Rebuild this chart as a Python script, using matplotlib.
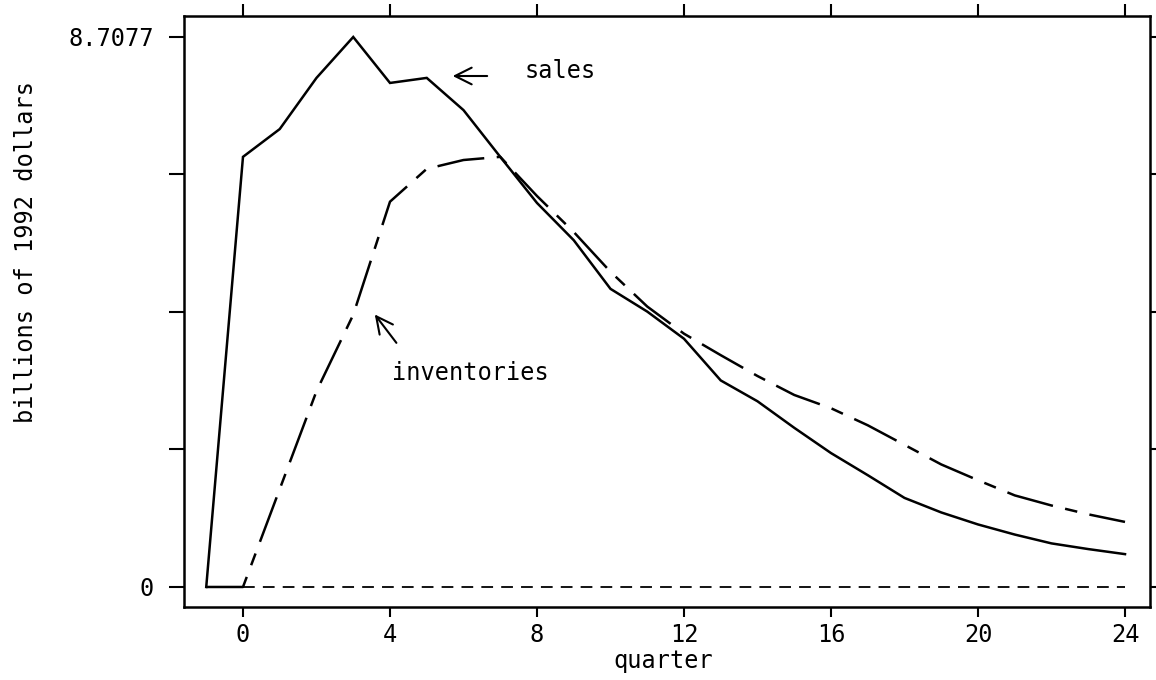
import matplotlib
matplotlib.use("Agg")
import matplotlib.pyplot as plt

# ---- data ----
quarter = list(range(-1, 25))
sales = [0.0, 6.81, 7.25, 8.06, 8.7077, 7.98, 8.06, 7.55, 6.81, 6.08, 5.49, 4.72,
         4.36, 3.93, 3.27, 2.94, 2.52, 2.12, 1.77, 1.41, 1.18, 0.99, 0.83, 0.69,
         0.60, 0.52]
inventories = [0.0, 0.0, 1.55, 3.10, 4.31, 6.10, 6.62, 6.76, 6.81, 6.19, 5.62, 4.99,
               4.44, 4.01, 3.67, 3.34, 3.04, 2.83, 2.56, 2.25, 1.94, 1.69, 1.45,
               1.29, 1.15, 1.03]
zero_x = [0, 24]
zero_y = [0, 0]
x_ticks = [0, 4, 8, 12, 16, 20, 24]
y_max = 8.7077
y_ticks = [0, y_max / 4, y_max / 2, 3 * y_max / 4, y_max]
y_ticklabels = ["0", "", "", "", "8.7077"]

FONT = "DejaVu Sans Mono"
FS = 17

W, H = 1156, 680
fig = plt.figure(figsize=(W / 100, H / 100), dpi=100)
ax = fig.add_axes([184 / W, 1 - 607 / H, (1150 - 184) / W, (607 - 16) / H])

ax.plot(quarter, sales, color="black", lw=1.8, solid_joinstyle="miter")
ax.plot(quarter, inventories, color="black", lw=1.8,
        linestyle=(0, (19, 5, 5, 5)))
ax.plot(zero_x, zero_y, color="black", lw=1.3, linestyle=(0, (6.5, 4.5)))

ax.set_xlim(-1.605, 24.68)
ax.set_ylim(-0.317, 9.04)

ax.set_xticks(x_ticks)
ax.set_xticklabels([str(t) for t in x_ticks], fontfamily=FONT, fontsize=FS)
ax.set_yticks(y_ticks)
ax.set_yticklabels(y_ticklabels, fontfamily=FONT, fontsize=FS)

ax.tick_params(axis="x", which="both", direction="out", length=7.5, width=1.5,
               top=True, pad=4)
ax.tick_params(axis="y", which="both", direction="out", length=10.8, width=1.5,
               right=True, pad=11)
# shorter right ticks / taller top ticks
for t in ax.yaxis.get_major_ticks():
    t.tick2line.set_markersize(4)
for t in ax.xaxis.get_major_ticks():
    t.tick2line.set_markersize(9)

for s in ax.spines.values():
    s.set_linewidth(1.8)

# annotations
ax.text(7.67, 8.17, "sales", fontfamily=FONT, fontsize=FS, va="center", ha="left")
ax.annotate("", xy=(5.63, 8.09), xytext=(6.72, 8.09),
            arrowprops=dict(arrowstyle="->", color="black", lw=1.5,
                            mutation_scale=30))
ax.text(4.05, 3.39, "inventories", fontfamily=FONT, fontsize=FS,
        va="center", ha="left")
ax.annotate("", xy=(3.54, 4.35), xytext=(4.22, 3.83),
            arrowprops=dict(arrowstyle="->", color="black", lw=1.5,
                            mutation_scale=30))

fig.text(663 / W, 1 - 661 / H, "quarter", fontfamily=FONT, fontsize=FS,
         ha="center", va="center")
fig.text(26 / W, 1 - 252 / H, "billions of 1992 dollars", fontfamily=FONT,
         fontsize=FS, ha="center", va="center", rotation=90)

fig.savefig("out.png", dpi=100)
